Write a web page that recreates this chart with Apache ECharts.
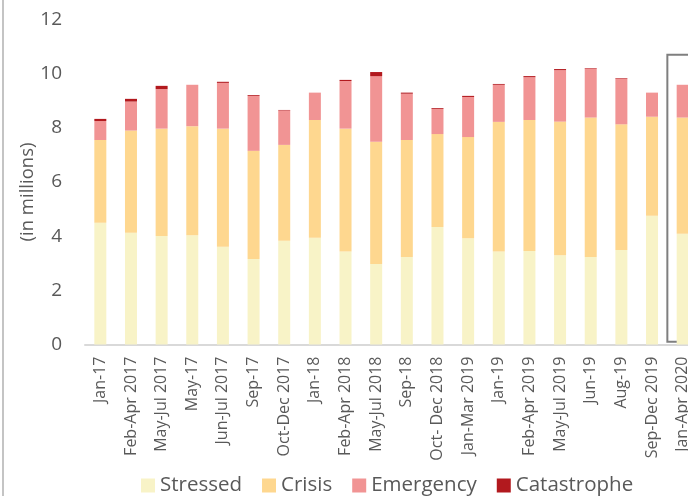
<!DOCTYPE html>
<html>
<head>
<meta charset="utf-8">
<script src="https://cdn.jsdelivr.net/npm/echarts@6/dist/echarts.min.js"></script>
<style>
html,body{margin:0;padding:0;width:688px;height:496px;overflow:hidden;background:#fff;}
#frame{position:absolute;left:2px;top:-20px;width:800px;height:540px;border-left:2px solid #c4c4c4;}
#chart{position:absolute;left:0;top:0;width:780px;height:496px;}
</style>
</head>
<body>
<div id="frame"></div>
<div id="chart"></div>
<script>
const categories = ["Jan-17","Feb-Apr 2017","May-Jul 2017","May-17","Jun-Jul 2017","Sep-17","Oct-Dec 2017","Jan-18","Feb-Apr 2018","May-Jul 2018","Sep-18","Oct- Dec 2018","Jan-Mar 2019","Jan-19","Feb-Apr 2019","May-Jul 2019","Jun-19","Aug-19","Sep-Dec 2019","Jan-Apr 2020"];
const stressed    = [4.50,4.13,4.01,4.03,3.61,3.16,3.83,3.94,3.43,2.97,3.23,4.34,3.92,3.43,3.45,3.30,3.23,3.49,4.75,4.09];
const crisis      = [3.05,3.77,3.96,4.03,4.36,3.99,3.54,4.35,4.54,4.52,4.32,3.43,3.74,4.79,4.84,4.93,5.15,4.64,3.66,4.29];
const emergency   = [0.70,1.07,1.46,1.53,1.69,2.03,1.27,1.01,1.76,2.42,1.71,0.93,1.48,1.37,1.58,1.90,1.81,1.69,0.89,1.21];
const catastrophe = [0.08,0.10,0.12,0.00,0.04,0.03,0.02,0.00,0.04,0.15,0.04,0.03,0.04,0.03,0.04,0.04,0.02,0.02,0.00,0.00];
const yTicks = [0,2,4,6,8,10,12];
const seriesNames = ["Stressed","Crisis","Emergency","Catastrophe"];
const highlightIndex = 19;

const colors = ["#f8f3c7","#fed78f","#f19494","#b2191e"];
const chart = echarts.init(document.getElementById('chart'), null, {renderer:'canvas'});
const dataSets = [stressed, crisis, emergency, catastrophe];
const font = "'Open Sans', 'Noto Sans', sans-serif";

chart.setOption({
  animation:false,
  color: colors,
  grid:{left:85, top:19.5, width:613, height:325, containLabel:false, outerBoundsMode:'none'},
  legend:{
    left:141, top:475, padding:0, itemWidth:14, itemHeight:14, itemGap:20, icon:'rect',
    textStyle:{fontSize:20.5, color:'#595959', fontFamily:font},
    data: seriesNames
  },
  xAxis:{
    type:'category', data:categories,
    axisLine:{lineStyle:{color:'#d9d9d9', width:2}},
    axisTick:{show:false},
    axisLabel:{rotate:90, interval:0, fontSize:16, color:'#595959', fontFamily:font, margin:12}
  },
  yAxis:{
    type:'value', min:yTicks[0], max:yTicks[yTicks.length-1], interval:yTicks[1]-yTicks[0],
    splitLine:{show:false}, axisLine:{show:false}, axisTick:{show:false},
    axisLabel:{fontSize:19, color:'#595959', fontFamily:font, margin:23}
  },
  series: seriesNames.map((n,i)=>({
    name:n, type:'bar', stack:'total', barWidth:12, data:dataSets[i],
    itemStyle:{color:colors[i]}
  }))
});

const p = chart.convertToPixel({xAxisIndex:0}, categories[highlightIndex]);
const band = 613/categories.length;
const topY = chart.convertToPixel({yAxisIndex:0}, 10.7);
const botY = chart.convertToPixel({yAxisIndex:0}, 0.1);
chart.setOption({
  graphic:[
    {type:'rect', shape:{x:p-band/2, y:topY, width:band+40, height:botY-topY},
     style:{fill:'none', stroke:'#7f7f7f', lineWidth:2}},
    {type:'text', x:28, y:192, rotation:Math.PI/2,
     style:{text:'(in millions)', fontSize:18.5, fill:'#595959', fontFamily:font, align:'center', verticalAlign:'middle'}}
  ]
});
</script>
</body>
</html>
